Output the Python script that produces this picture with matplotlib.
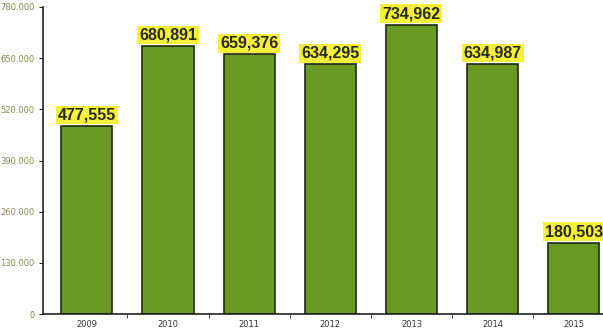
import numpy as np
import matplotlib.pyplot as plt
from matplotlib.ticker import FuncFormatter

years = ['2009', '2010', '2011', '2012', '2013', '2014', '2015']
values = [477555, 680891, 659376, 634295, 734962, 634987, 180503]
yticks = [0, 130000, 260000, 390000, 520000, 650000, 780000]

fig = plt.figure(figsize=(6.03, 3.33), dpi=100)
ax = fig.add_axes([43 / 603, 19 / 333, 560 / 603, 307 / 333])

x = np.arange(len(years))
ax.bar(x, values, width=0.63, color='#6b9a22', edgecolor='#1e2a10', linewidth=1.2, zorder=2)

for xi, v in zip(x, values):
    ax.text(xi, v + 9000, '{:,}'.format(v), ha='center', va='bottom',
            fontsize=11.5, fontweight='bold', color='#2a2a1a', family='Liberation Sans',
            bbox=dict(boxstyle='square,pad=0.12', facecolor='#f4ef3a', edgecolor='none'),
            zorder=3)

ax.set_xlim(-0.54, 6.36)
ax.set_ylim(0, 780000)
ax.set_yticks(yticks)
ax.yaxis.set_major_formatter(FuncFormatter(lambda v, p: '{:,}'.format(int(v)).replace(',', '.')))
ax.set_xticks(x)
ax.set_xticklabels(years)
ax.set_xticks(x[:-1] + 0.5, minor=True)
ax.tick_params(axis='x', which='major', length=0, labelsize=6, labelcolor='#333333', pad=4)
ax.tick_params(axis='x', which='minor', length=3, direction='out', color='#222222')
ax.tick_params(axis='y', length=3, labelsize=6, labelcolor='#8a8a50', color='#222222', pad=3)

for s in ['top', 'right']:
    ax.spines[s].set_visible(False)
ax.spines['left'].set_linewidth(1.2)
ax.spines['bottom'].set_linewidth(1.2)
ax.spines['left'].set_color('#222222')
ax.spines['bottom'].set_color('#222222')

plt.savefig('out.png', dpi=100)
